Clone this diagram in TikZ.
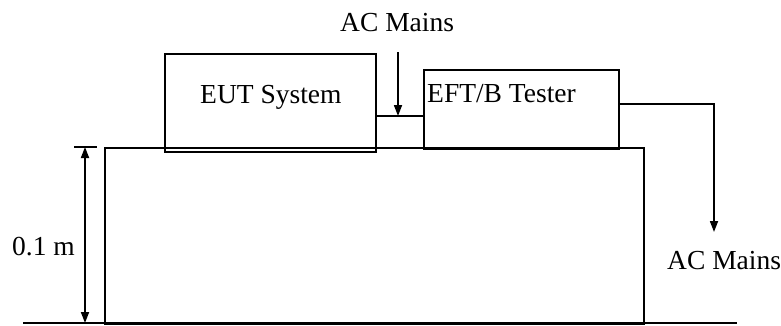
\documentclass[tikz,border=0pt]{standalone}
\usepackage{fontspec}
\setmainfont{Liberation Serif}
\usetikzlibrary{arrows.meta}
\tikzset{
	box/.style={draw,black,line width=1.7pt,inner sep=0pt,anchor=north west},
	lbl/.style={anchor=base west,inner sep=0pt,font=\fontsize{27.5}{30}\selectfont},
	wire/.style={black,line width=1.7pt},
	arr/.style={wire,-{Triangle[length=11pt,width=8pt]}}
}
\begin{document}
\begin{tikzpicture}[x=1pt,y=-1pt]
				\useasboundingbox (0,0) rectangle (781,325);
				\node[box,minimum width=539pt,minimum height=176pt] (table) at (104,147) {};
				\node[box,minimum width=211pt,minimum height=98pt] (eut) at (164,53) {};
				\node[box,minimum width=195pt,minimum height=79pt] (eft) at (423,69) {};
				\coordinate (floorL) at (23,323);
				\coordinate (floorR) at (737,323);
				\draw[wire] (floorL) -- (floorR);
				\node[lbl] (eutlbl) at (200,103) {EUT System};
				\node[lbl] (eftlbl) at (427,102.5) {EFT/B Tester};
				\node[lbl] (mainsA) at (340,31.5) {AC Mains};
				\node[lbl] (mainsB) at (667,269) {AC Mains};
				\node[lbl] (height) at (12,255) {0.1 m};
				\draw[wire] (eut.east |- 0,116) -- (eft.west |- 0,116);
				\coordinate (feedA) at (398,52);
				\coordinate (feedB) at (398,116);
				\draw[arr] (feedA) -- (feedB);
				\coordinate (outA) at (714,232);
				\draw[arr] (eft.east |- 0,104) -| (outA);
				\coordinate (dimT) at (85,147);
				\coordinate (dimB) at (85,323);
				\draw[wire] (74,147) -- (97,147);
				\draw[wire,{Triangle[length=11pt,width=8pt]}-{Triangle[length=11pt,width=8pt]}] (dimT) -- (dimB);
			\end{tikzpicture}
\end{document}
